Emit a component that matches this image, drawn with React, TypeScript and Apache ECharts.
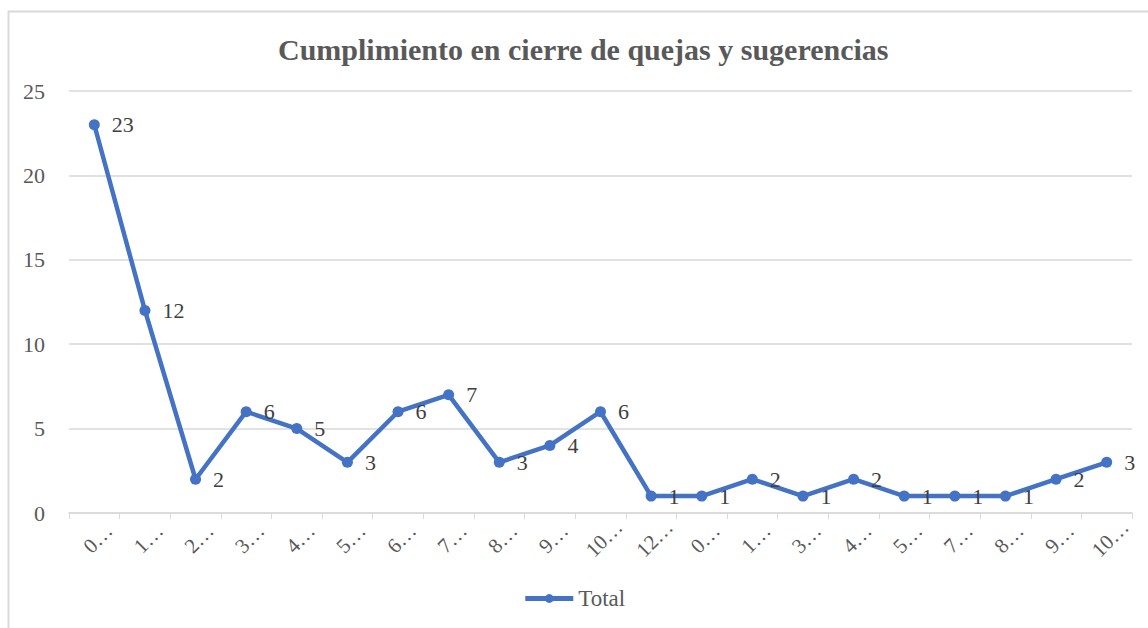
import React, { useEffect, useRef } from "react";
import * as echarts from "echarts";

const categories = ["0…", "1…", "2…", "3…", "4…", "5…", "6…", "7…", "8…", "9…", "10…", "12…", "0…", "1…", "3…", "4…", "5…", "7…", "8…", "9…", "10…"];
const totals = [23, 12, 2, 6, 5, 3, 6, 7, 3, 4, 6, 1, 1, 2, 1, 2, 1, 1, 1, 2, 3];
const seriesName = "Total";
const titleText = "Cumplimiento en cierre de quejas y sugerencias";

export default function App() {
  const ref = useRef<HTMLDivElement>(null);
  useEffect(() => {
    const chart = echarts.init(ref.current!, null, { renderer: "svg" });
    const font = "Liberation Serif";
    chart.setOption({
      animation: false,
      backgroundColor: "#ffffff",
      textStyle: { fontFamily: font },
      title: {
        text: titleText,
        left: 273,
        top: 29,
        textStyle: { fontFamily: font, fontSize: 30, fontWeight: "bold", color: "#595959" },
      },
      graphic: [
        {
          type: "rect",
          shape: { x: 8.5, y: 11.5, width: 1300, height: 800 },
          style: { fill: "none", stroke: "#d9d9d9", lineWidth: 2 },
          silent: true,
        },
      ],
      legend: {
        bottom: 13,
        left: "center",
        itemWidth: 48,
        itemHeight: 11,
        lineStyle: { width: 5 },
        textStyle: { fontFamily: font, fontSize: 23, color: "#595959" },
        data: [seriesName],
      },
      grid: { left: 69, right: 16, top: 91, bottom: 115, containLabel: false },
      xAxis: {
        type: "category",
        data: categories,
        boundaryGap: true,
        axisLine: { lineStyle: { color: "#d9d9d9", width: 1.5 } },
        axisTick: { show: true, alignWithLabel: false, length: 6, lineStyle: { color: "#d9d9d9" } },
        axisLabel: {
          rotate: 45,
          align: "center",
          verticalAlign: "middle",
          fontFamily: font,
          fontSize: 21,
          color: "#595959",
          interval: 0,
          margin: 29,
          padding: [0, 0, 0, 10],
        },
      },
      yAxis: {
        type: "value",
        min: 0,
        max: 25,
        interval: 5,
        axisLine: { show: false },
        axisTick: { show: false },
        splitLine: { lineStyle: { color: "#d9d9d9", width: 1.5 } },
        axisLabel: { fontFamily: font, fontSize: 22, color: "#595959", margin: 24 },
      },
      series: [
        {
          name: seriesName,
          type: "line",
          data: totals,
          color: "#4472C4",
          lineStyle: { width: 4.5, color: "#4472C4" },
          symbol: "circle",
          symbolSize: 11,
          itemStyle: { color: "#4472C4" },
          label: {
            show: true,
            position: "right",
            distance: 12,
            fontFamily: font,
            fontSize: 22,
            color: "#404040",
          },
        },
      ],
    });
    return () => chart.dispose();
  }, []);
  return <div ref={ref} style={{ position: "fixed", left: 0, top: 0, width: 1148, height: 628 }} />;
}
